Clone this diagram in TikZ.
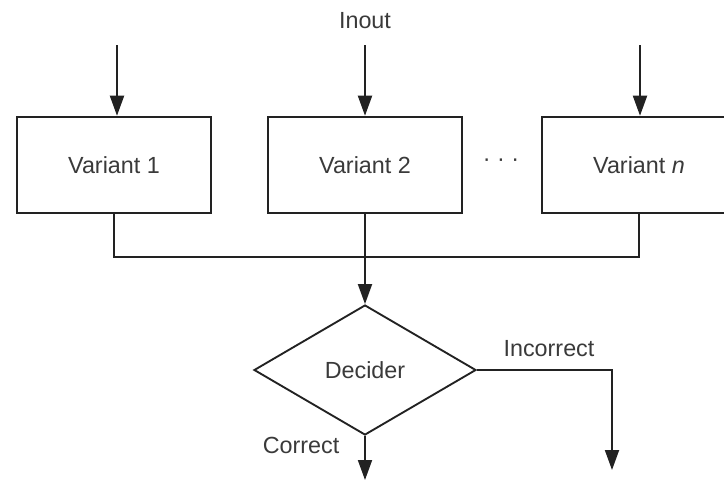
\documentclass[tikz,border=0pt]{standalone}
\usepackage{fontspec}
\setmainfont{Liberation Sans}
\usetikzlibrary{shapes.geometric,arrows.meta}
\definecolor{ink}{HTML}{222222}
\definecolor{lbl}{HTML}{3a3a3a}
\begin{document}
\begin{tikzpicture}[x=0.75pt,y=-0.75pt,
  every node/.style={font=\fontsize{17.5}{20}\selectfont,text=lbl},
  box/.style={draw=ink,line width=1.4pt,minimum width=146pt,minimum height=72.5pt,inner sep=0pt},
  decider/.style={diamond,draw=ink,line width=1.4pt,aspect=1.708,minimum width=166.5pt,minimum height=97.5pt,inner sep=0pt},
  wire/.style={draw=ink,line width=1.4pt},
  flow/.style={wire,-{Triangle[width=10.5pt,length=15pt]}}]
\useasboundingbox (0,0) rectangle (724,482);
\clip (0,0) rectangle (724,482);
\fill[white] (0,0) rectangle (724,482);

% variant boxes
\node[box] (b1) at (114,165) {Variant 1};
\node[box] (b2) at (365,165) {Variant 2};
\node[box] (bn) at (639,165) {Variant \textit{n}};
\node (dots) at (501,163) {· · ·};

% input arrows
\node (inp) at (365,21) {Inout};
\coordinate (i1) at (117,45);
\coordinate (i2) at (365,45);
\coordinate (in) at (640,45);
\draw[flow] (i1) -- (i1 |- b1.north);
\draw[flow] (i2) -- (i2 |- b2.north);
\draw[flow] (in) -- (in |- bn.north);

% decider
\node[decider] (dec) at (365,370) {Decider};
\coordinate (j) at (365,257);
\draw[wire] (b1.south) -- (b1.south |- j) -- (bn.south |- j) -- (bn.south);
\draw[flow] (b2.south) -- (dec.north);

% outcomes
\coordinate (inc) at (612,470);
\coordinate (cor) at (365,480);
\draw[flow] (dec.east) -| (inc);
\draw[flow] (dec.south) -- (cor);
\node (incl) at (549,349) {Incorrect};
\node (corl) at (301,445) {Correct};
\end{tikzpicture}
\end{document}
